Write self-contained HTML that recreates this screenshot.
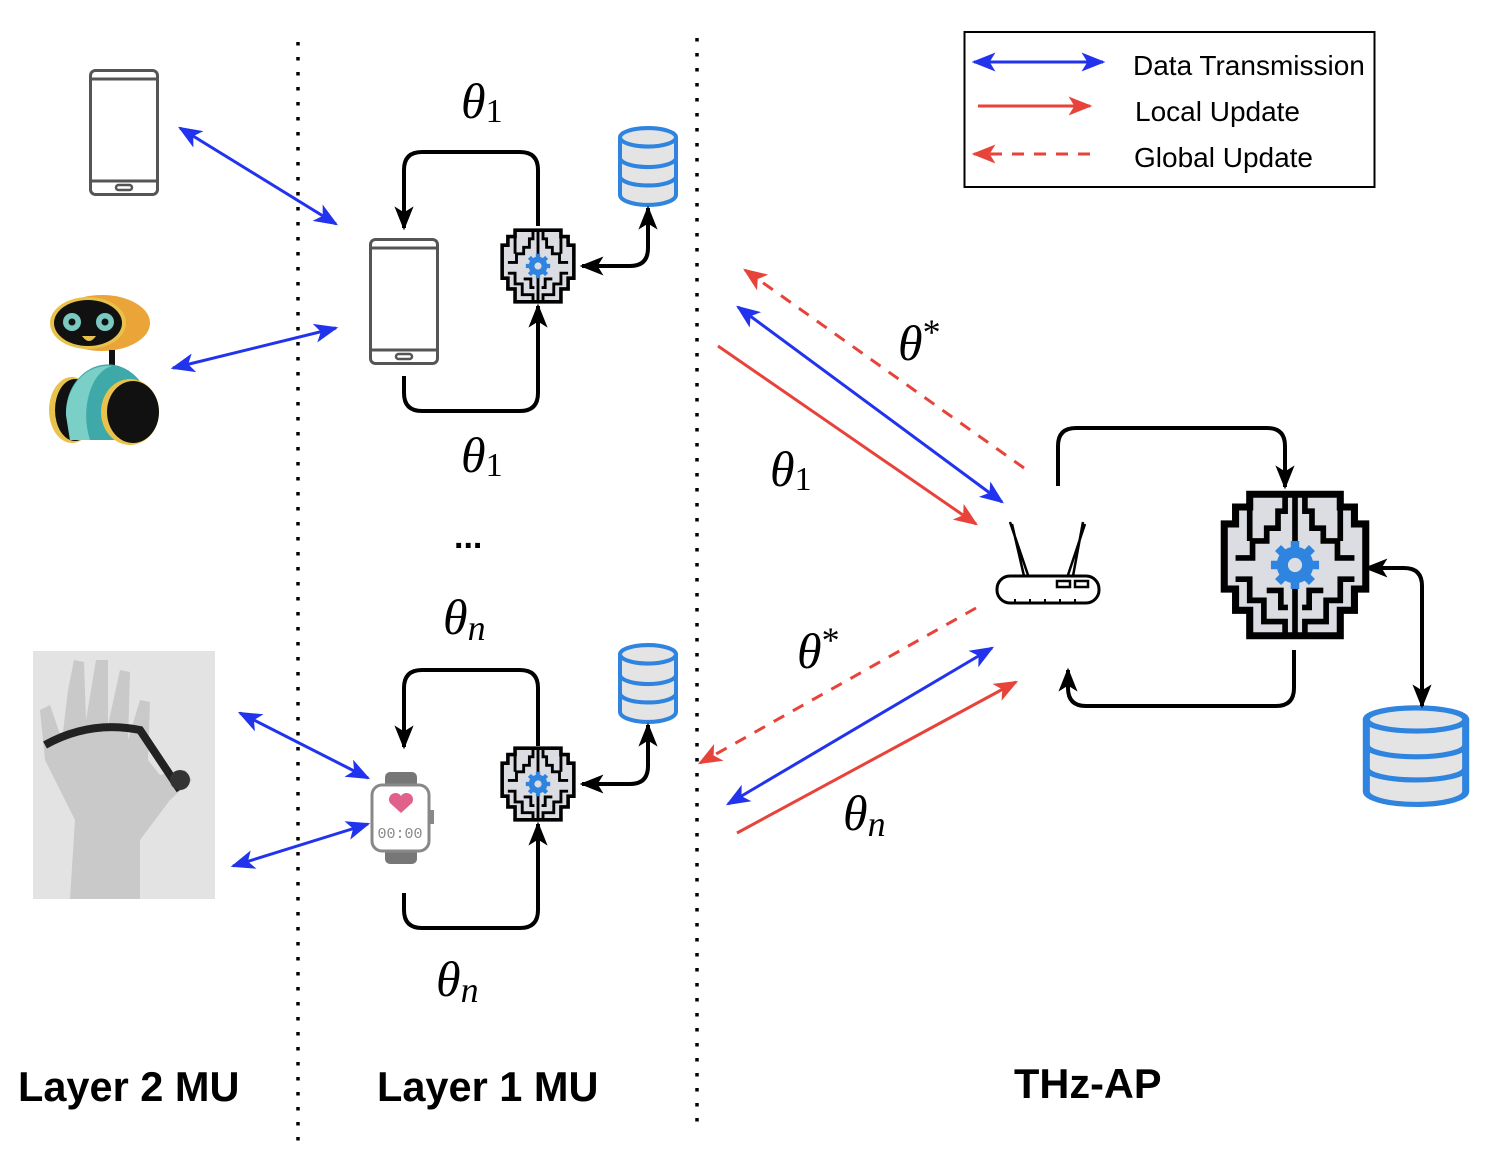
<!DOCTYPE html>
<html><head><meta charset="utf-8"><style>
html,body{margin:0;padding:0;background:#fff}
svg{display:block}
.th{font-family:"Liberation Serif",serif;font-style:italic;font-size:50px;fill:#000}
.sub{font-style:normal;font-size:34px}
.subi{font-style:italic;font-size:36px}
.st{font-style:normal;font-size:36px}
.lg{font-family:"Liberation Sans",sans-serif;font-size:28px;fill:#000}
.lay{font-family:"Liberation Sans",sans-serif;font-size:41.5px;font-weight:bold;fill:#000}
</style></head><body>
<svg width="1500" height="1172" viewBox="0 0 1500 1172" xmlns="http://www.w3.org/2000/svg">
<defs>
<marker id="ab" viewBox="0 0 20 16" refX="18" refY="8" markerWidth="24" markerHeight="20" markerUnits="userSpaceOnUse" orient="auto-start-reverse"><path d="M0,0 L20,8 L0,16 L5,8Z" fill="#2233ee"/></marker>
<marker id="ar" viewBox="0 0 20 16" refX="18" refY="8" markerWidth="24" markerHeight="20" markerUnits="userSpaceOnUse" orient="auto-start-reverse"><path d="M0,0 L20,8 L0,16 L5,8Z" fill="#e8433a"/></marker>
<marker id="ak" viewBox="0 0 20 16" refX="18" refY="8" markerWidth="24" markerHeight="22" markerUnits="userSpaceOnUse" orient="auto-start-reverse"><path d="M0,0 L20,8 L0,16 L5,8Z" fill="#000"/></marker>
<symbol id="brain" viewBox="-3 -3 106 106">
<path d="M18,0 H82 V9 H92 V21 H100 V67 H92 V82 H82 V100 H18 V82 H8 V67 H0 V21 H8 V9 H18Z" fill="#dcdde3" stroke="#000" stroke-width="5" stroke-linejoin="miter"/>
<g fill="none" stroke="#000" stroke-width="4">
<path d="M50,0 V100"/><path d="M43,0 V12 H38 V24 H30 V33 H20 V45 H8"/><path d="M57,0 V12 H62 V24 H70 V33 H80 V45 H92"/>
<path d="M18,10 V33"/><path d="M82,10 V33"/>
<path d="M8,60 H18 V75 H28 V90 H43 V100"/><path d="M92,60 H82 V75 H72 V90 H57 V100"/>
<path d="M30,68 H40 V80 H45"/><path d="M70,68 H60 V80 H55"/>
</g>
<circle cx="50" cy="50" r="13" fill="#2f84e0"/>
<g stroke="#2f84e0" stroke-width="6"><path d="M50,33 V67 M33,50 H67 M38,38 L62,62 M62,38 L38,62"/></g>
<circle cx="50" cy="50" r="5" fill="#dcdde3"/>
</symbol>
<symbol id="db" viewBox="0 0 62 80" preserveAspectRatio="none">
<path d="M3,12 V68 A28,10 0 0 0 59,68 V12" fill="#e4e4e4" stroke="#2f84e0" stroke-width="4"/>
<ellipse cx="31" cy="12" rx="28" ry="9" fill="#e4e4e4" stroke="#2f84e0" stroke-width="4"/>
<path d="M3,32 A28,9 0 0 0 59,32 M3,50 A28,9 0 0 0 59,50" fill="none" stroke="#2f84e0" stroke-width="4"/>
</symbol>
<symbol id="phone" viewBox="0 0 70 127">
<rect x="1.5" y="1.5" width="67" height="124" rx="5" fill="#fff" stroke="#555" stroke-width="3"/>
<path d="M1.5,10 H68.5 M1.5,112 H68.5" stroke="#555" stroke-width="3"/>
<rect x="27" y="116" width="16" height="5" rx="2.5" fill="none" stroke="#555" stroke-width="2.5"/>
</symbol>
</defs>

<line x1="298" y1="42" x2="298" y2="1146" stroke="#000" stroke-width="3.5" stroke-dasharray="3.5,11.5"/>
<line x1="697" y1="38" x2="697" y2="1124" stroke="#000" stroke-width="3.5" stroke-dasharray="3.5,11.5"/>

<rect x="964.5" y="32" width="410" height="155" fill="#fff" stroke="#000" stroke-width="2"/>
<line x1="974" y1="62" x2="1103" y2="62" stroke="#2233ee" stroke-width="3" marker-start="url(#ab)" marker-end="url(#ab)"/>
<line x1="978" y1="106" x2="1090" y2="106" stroke="#e8433a" stroke-width="3" marker-end="url(#ar)"/>
<line x1="1090" y1="154" x2="974" y2="154" stroke="#e8433a" stroke-width="3" stroke-dasharray="12,10" marker-end="url(#ar)"/>
<text x="1133" y="75" class="lg">Data Transmission</text>
<text x="1135" y="121" class="lg">Local Update</text>
<text x="1134" y="167" class="lg">Global Update</text>

<use href="#phone" x="89" y="69" width="70" height="127"/>
<use href="#phone" x="369" y="238" width="70" height="127"/>

<g>
<ellipse cx="102" cy="323" rx="48" ry="28" fill="#eba437"/>
<ellipse cx="88" cy="323" rx="38" ry="26" fill="#e9c24b"/>
<ellipse cx="88" cy="323" rx="34" ry="23" fill="#111"/>
<circle cx="72" cy="322" r="9" fill="#7cc9c2"/><circle cx="72" cy="322" r="3.5" fill="#111"/>
<circle cx="105" cy="322" r="9" fill="#7cc9c2"/><circle cx="105" cy="322" r="3.5" fill="#111"/>
<path d="M82,336 H96 Q89,346 82,336Z" fill="#e9c24b"/>
<rect x="109" y="350" width="6" height="18" fill="#111"/>
<ellipse cx="72" cy="410" rx="23" ry="33" fill="#e9c24b"/>
<ellipse cx="75" cy="410" rx="20" ry="31" fill="#111"/>
<path d="M66,415 A42,48 0 0 1 150,410 L145,440 L70,440Z" fill="#3fa9aa"/>
<path d="M66,415 A42,48 0 0 1 112,366 A30,50 0 0 0 90,440 L70,440Z" fill="#7acfc6"/>
<ellipse cx="130" cy="412" rx="29" ry="33" fill="#e9c24b"/>
<ellipse cx="133" cy="412" rx="26" ry="31" fill="#111"/>
</g>

<rect x="33" y="651" width="182" height="248" fill="#e3e3e3"/>
<path d="M70,899 L75,820 L45,760 L40,710 L50,705 L62,740 L68,690 L74,660 L84,662 L86,720 L96,660 L108,660 L108,725 L120,670 L130,672 L128,740 L140,700 L150,702 L148,760 L160,775 L185,770 L192,780 L170,800 L140,840 L140,899Z" fill="#c9c9c9"/>
<path d="M45,745 Q90,720 140,730 Q160,760 180,790" fill="none" stroke="#222" stroke-width="8"/>
<circle cx="180" cy="780" r="10" fill="#333"/>

<rect x="385" y="772" width="32" height="16" rx="5" fill="#777"/>
<rect x="385" y="848" width="32" height="16" rx="5" fill="#777"/>
<rect x="372" y="785" width="57" height="66" rx="10" fill="#fff" stroke="#888" stroke-width="3"/>
<rect x="430" y="810" width="4" height="14" fill="#888"/>
<path d="M401,813 L390,803 A6,6 0 0 1 401,796 A6,6 0 0 1 412,803Z" fill="#e0628a"/>
<text x="400" y="838" font-family="Liberation Mono,monospace" font-size="15" fill="#888" text-anchor="middle">00:00</text>

<use href="#brain" x="500" y="228" width="76" height="76"/>
<use href="#brain" x="500" y="746" width="76" height="76"/>
<use href="#db" x="617" y="125" width="62" height="82"/>
<use href="#db" x="617" y="642" width="62" height="82"/>

<g fill="none" stroke="#000" stroke-width="4">
<path d="M538,226 V170 Q538,152 520,152 H422 Q404,152 404,170 V228" marker-end="url(#ak)"/>
<path d="M404,376 V393 Q404,411 422,411 H520 Q538,411 538,393 V306" marker-end="url(#ak)"/>
<path d="M582,266 H630 Q648,266 648,248 V208" marker-start="url(#ak)" marker-end="url(#ak)"/>
<path d="M538,746 V688 Q538,670 520,670 H422 Q404,670 404,688 V747" marker-end="url(#ak)"/>
<path d="M404,893 V910 Q404,928 422,928 H520 Q538,928 538,910 V824" marker-end="url(#ak)"/>
<path d="M582,784 H630 Q648,784 648,766 V725" marker-start="url(#ak)" marker-end="url(#ak)"/>
</g>

<g stroke="#2233ee" stroke-width="3">
<line x1="180" y1="128" x2="336" y2="224" marker-start="url(#ab)" marker-end="url(#ab)"/>
<line x1="173" y1="368" x2="336" y2="328" marker-start="url(#ab)" marker-end="url(#ab)"/>
<line x1="240" y1="713" x2="368" y2="778" marker-start="url(#ab)" marker-end="url(#ab)"/>
<line x1="233" y1="866" x2="368" y2="824" marker-start="url(#ab)" marker-end="url(#ab)"/>
</g>

<line x1="1024" y1="468" x2="745" y2="270" stroke="#e8433a" stroke-width="3" stroke-dasharray="12,10" marker-end="url(#ar)"/>
<line x1="738" y1="307" x2="1002" y2="502" stroke="#2233ee" stroke-width="3" marker-start="url(#ab)" marker-end="url(#ab)"/>
<line x1="718" y1="346" x2="976" y2="524" stroke="#e8433a" stroke-width="3" marker-end="url(#ar)"/>
<line x1="976" y1="608" x2="700" y2="763" stroke="#e8433a" stroke-width="3" stroke-dasharray="12,10" marker-end="url(#ar)"/>
<line x1="728" y1="804" x2="992" y2="648" stroke="#2233ee" stroke-width="3" marker-start="url(#ab)" marker-end="url(#ab)"/>
<line x1="737" y1="833" x2="1016" y2="682" stroke="#e8433a" stroke-width="3" marker-end="url(#ar)"/>

<g stroke="#000" fill="none">
<path d="M1010,522 L1028,575 M1012,524 L1024,576 M1085,524 L1068,575 M1083,522 L1073,576" stroke-width="2.5"/>
<rect x="997" y="576" width="102" height="27" rx="13" fill="#fff" stroke-width="3"/>
<rect x="1057" y="581" width="13" height="6" stroke-width="2.5"/><rect x="1075" y="581" width="13" height="6" stroke-width="2.5"/>
<path d="M1015,603 V599 M1030,603 V599 M1045,603 V599 M1060,603 V599 M1075,603 V599" stroke-width="2"/>
</g>
<use href="#brain" x="1220" y="490" width="150" height="150"/>
<use href="#db" x="1361" y="704" width="110" height="103"/>
<g fill="none" stroke="#000" stroke-width="4">
<path d="M1058,486 V446 Q1058,428 1076,428 H1267 Q1285,428 1285,446 V487" marker-end="url(#ak)"/>
<path d="M1294,650 V688 Q1294,706 1276,706 H1086 Q1068,706 1068,688 V670" marker-end="url(#ak)"/>
<path d="M1366,568 H1404 Q1422,568 1422,586 V706" marker-start="url(#ak)" marker-end="url(#ak)"/>
</g>

<text x="461" y="118" class="th">θ<tspan class="sub" dy="4">1</tspan></text>
<text x="461" y="472" class="th">θ<tspan class="sub" dy="4">1</tspan></text>
<text x="454" y="548" font-family="Liberation Sans,sans-serif" font-weight="bold" font-size="34">...</text>
<text x="443" y="634" class="th">θ<tspan class="subi" dy="6">n</tspan></text>
<text x="436" y="996" class="th">θ<tspan class="subi" dy="6">n</tspan></text>
<text x="898" y="360" class="th">θ<tspan class="st" dy="-16">*</tspan></text>
<text x="770" y="486" class="th">θ<tspan class="sub" dy="4">1</tspan></text>
<text x="797" y="668" class="th">θ<tspan class="st" dy="-16">*</tspan></text>
<text x="843" y="830" class="th">θ<tspan class="subi" dy="6">n</tspan></text>

<text x="18" y="1101" class="lay">Layer 2 MU</text>
<text x="377" y="1101" class="lay">Layer 1 MU</text>
<text x="1014" y="1098" class="lay">THz-AP</text>
</svg>
</body></html>
